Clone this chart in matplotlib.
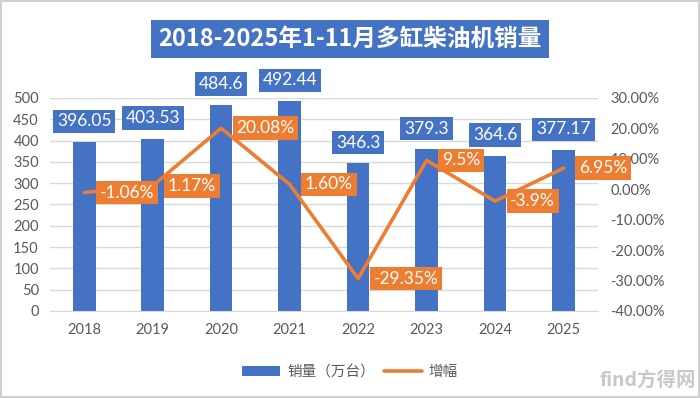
import matplotlib
matplotlib.use("Agg")
import matplotlib.pyplot as plt
from matplotlib.patches import Patch
from matplotlib.lines import Line2D
from matplotlib.ticker import FuncFormatter, MultipleLocator

years = ["2018", "2019", "2020", "2021", "2022", "2023", "2024", "2025"]
sales = [396.05, 403.53, 484.6, 492.44, 346.3, 379.3, 364.6, 377.17]
growth = [-1.06, 1.17, 20.08, 1.60, -29.35, 9.5, -3.9, 6.95]
growth_labels = ["-1.06%", "1.17%", "20.08%", "1.60%", "-29.35%", "9.5%", "-3.9%", "6.95%"]
sales_labels = ["396.05", "403.53", "484.6", "492.44", "346.3", "379.3", "364.6", "377.17"]
title = "2018-2025年1-11月多缸柴油机销量"
legend_labels = ["销量（万台）", "增幅"]

BLUE = "#4472C4"
ORANGE = "#ED7D31"
GRAY = "#595959"
GRID = "#D9D9D9"

plt.rcParams['font.family'] = ['Lato', 'Noto Sans CJK SC', 'DejaVu Sans']

fig = plt.figure(figsize=(7.0, 3.98), dpi=100)
fig.patch.set_facecolor("white")
fig.patch.set_edgecolor("#D0D0D0")
fig.patch.set_linewidth(1.5)

ax = fig.add_axes([0.0714, 0.2186, 0.7826, 0.5352])
x = list(range(len(years)))
ax.bar(x, sales, width=0.33, color=BLUE, zorder=2)
ax.set_ylim(0, 500)
ax.set_xlim(-0.5, len(years) - 0.5)
ax.yaxis.set_major_locator(MultipleLocator(50))
ax.grid(axis="y", color=GRID, linewidth=1, zorder=0)
ax.set_axisbelow(True)
for s in ["top", "right", "left"]:
    ax.spines[s].set_visible(False)
ax.spines["bottom"].set_color(GRID)
ax.tick_params(axis="both", length=0, colors=GRAY, labelsize=10.5)
ax.tick_params(axis="y", pad=8)
ax.tick_params(axis="x", pad=9)
ax.set_xticks(x)
ax.set_xticklabels(years)

ax2 = ax.twinx()
ax2.plot(x, growth, color=ORANGE, linewidth=2.6, zorder=3, solid_capstyle="round")
ax2.set_ylim(-40, 30)
ax2.yaxis.set_major_locator(MultipleLocator(10))
ax2.yaxis.set_major_formatter(FuncFormatter(lambda v, p: f"{v:.2f}%"))
for s in ["top", "right", "left", "bottom"]:
    ax2.spines[s].set_visible(False)
ax2.tick_params(axis="y", length=0, colors=GRAY, labelsize=10.5, pad=9)

# bar value labels
for i, (v, lab) in enumerate(zip(sales, sales_labels)):
    ax.annotate(lab, xy=(i, v), xytext=(0, 15), textcoords="offset points",
                ha="center", va="center", color="white", fontsize=12.5,
                bbox=dict(boxstyle="square,pad=0.22", fc=BLUE, ec="none"),
                zorder=5, annotation_clip=False)

# growth labels
for i, (g, lab) in enumerate(zip(growth, growth_labels)):
    ax2.annotate(lab, xy=(i, g), xytext=(11, 0), textcoords="offset points",
                 ha="left", va="center", color="white", fontsize=12.5,
                 bbox=dict(boxstyle="square,pad=0.22", fc=ORANGE, ec="none"),
                 zorder=6, annotation_clip=False)

# title
fig.text(0.5, 0.902, title, ha="center", va="center", color="white",
         fontsize=17, fontweight="bold", family=["Noto Sans CJK SC"],
         bbox=dict(boxstyle="square,pad=0.3", fc=BLUE, ec="none"))

handles = [Patch(facecolor=BLUE, edgecolor="none"),
           Line2D([0], [0], color=ORANGE, linewidth=2.6, solid_capstyle="round")]
leg = fig.legend(handles, legend_labels, loc="center", bbox_to_anchor=(0.5, 0.065),
                 ncol=2, frameon=False, handlelength=2.6, handleheight=0.7,
                 columnspacing=0.6, handletextpad=0.5,
                 prop={"family": ["Noto Sans CJK SC"], "size": 10.5})
for t in leg.get_texts():
    t.set_color(GRAY)

# watermark
fig.text(0.995, 0.02, "find方得网", ha="right", va="bottom", color="#C8C8C8",
         fontsize=14, family=["Noto Sans CJK SC"], fontweight="bold")

fig.savefig("out.png", dpi=100, facecolor=fig.get_facecolor(), edgecolor=fig.get_edgecolor())
